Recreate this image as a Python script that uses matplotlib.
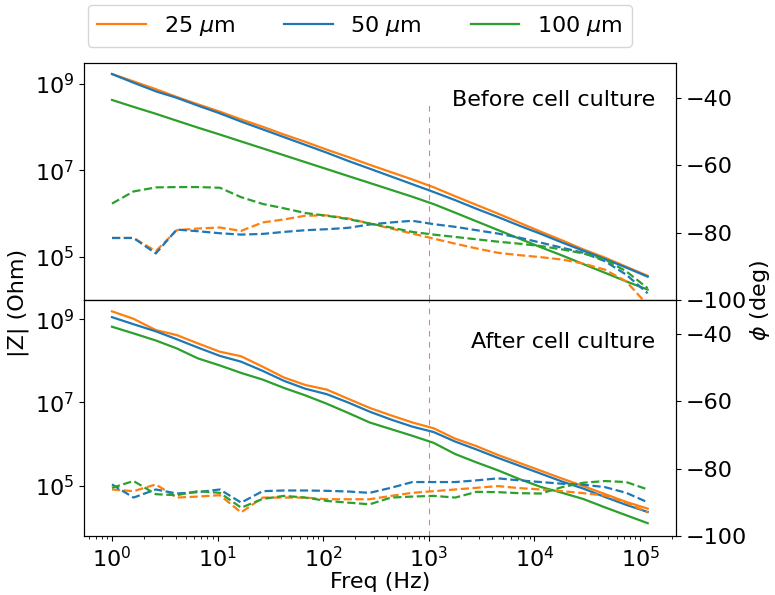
import matplotlib
matplotlib.use("Agg")
import matplotlib.pyplot as plt
import numpy as np
from matplotlib.ticker import LogLocator, NullLocator, FixedLocator, LogFormatterMathtext, NullFormatter

# ---------------- data ----------------
freq = [1, 1.6, 2.6, 4.1, 6.5, 10.5, 16.7, 26.7, 42.5, 67.8, 108, 172, 275, 438, 698,
        1110, 1780, 2830, 4510, 7200, 11500, 18300, 29100, 46500, 74000, 118000]

labels = ["25 $\\mu$m", "50 $\\mu$m", "100 $\\mu$m"]
colors = ["tab:orange", "tab:blue", "tab:green"]

# log10 |Z| before cell culture
before_logz_25 = [9.23, 9.06, 8.88, 8.70, 8.53, 8.36, 8.18, 8.01, 7.83, 7.66, 7.48, 7.31, 7.13,
                  6.96, 6.79, 6.61, 6.40, 6.20, 6.00, 5.79, 5.58, 5.38, 5.17, 4.98, 4.77, 4.56]
before_logz_50 = [9.23, 9.03, 8.83, 8.68, 8.50, 8.32, 8.13, 7.95, 7.77, 7.59, 7.41, 7.22, 7.04,
                  6.86, 6.68, 6.50, 6.31, 6.11, 5.92, 5.72, 5.53, 5.33, 5.14, 4.95, 4.75, 4.54]
before_logz_100 = [8.63, 8.47, 8.31, 8.15, 7.99, 7.83, 7.67, 7.51, 7.35, 7.19, 7.03, 6.87, 6.71,
                   6.55, 6.39, 6.22, 6.02, 5.82, 5.62, 5.42, 5.22, 5.03, 4.83, 4.63, 4.43, 4.24]

# phase (deg) before cell culture
before_ph_25 = [-81.6, -81.6, -85.5, -79.3, -78.8, -78.5, -79.5, -77.0, -76.1, -75.0, -74.9, -75.8, -77.3,
                -78.8, -80.3, -81.8, -83.3, -84.7, -86.0, -86.7, -87.3, -88.0, -89.2, -91.0, -94.5, -101.5]
before_ph_50 = [-81.6, -81.6, -86.2, -79.1, -79.6, -80.2, -80.6, -80.4, -79.8, -79.3, -79.0, -78.6, -77.6,
                -77.0, -76.5, -77.5, -78.3, -79.3, -80.3, -81.5, -83.0, -84.5, -86.0, -88.5, -92.5, -98.0]
before_ph_100 = [-71.4, -67.8, -66.6, -66.5, -66.5, -66.7, -69.5, -71.5, -72.8, -74.2, -75.0, -76.0, -77.3,
                 -78.5, -79.8, -80.6, -81.3, -82.0, -82.7, -83.3, -84.0, -85.0, -86.2, -88.0, -91.5, -96.5]

# log10 |Z| after cell culture
after_logz_25 = [9.19, 9.01, 8.74, 8.62, 8.42, 8.22, 8.11, 7.86, 7.60, 7.42, 7.31, 7.09, 6.87,
                 6.69, 6.52, 6.38, 6.13, 5.95, 5.74, 5.55, 5.36, 5.17, 4.99, 4.80, 4.61, 4.45]
after_logz_50 = [9.05, 8.88, 8.71, 8.52, 8.32, 8.12, 7.98, 7.76, 7.52, 7.33, 7.20, 7.00, 6.78,
                 6.59, 6.42, 6.29, 6.06, 5.87, 5.67, 5.48, 5.29, 5.10, 4.93, 4.73, 4.54, 4.37]
after_logz_100 = [8.82, 8.66, 8.49, 8.30, 8.06, 7.89, 7.71, 7.55, 7.35, 7.17, 6.97, 6.75, 6.52,
                  6.36, 6.20, 6.03, 5.76, 5.56, 5.37, 5.16, 4.97, 4.83, 4.68, 4.48, 4.29, 4.10]

# phase (deg) after cell culture
after_ph_25 = [-86.2, -86.7, -84.7, -88.6, -88.3, -87.9, -93.0, -88.6, -88.6, -88.6, -89.1, -89.1, -89.1,
               -88.1, -87.2, -86.7, -86.2, -85.7, -85.2, -85.8, -86.2, -86.7, -87.3, -88.0, -90.1, -93.0]
after_ph_50 = [-84.7, -88.6, -86.2, -87.4, -87.0, -86.2, -90.1, -86.7, -86.5, -86.5, -86.6, -86.8, -87.2,
               -85.7, -84.0, -84.0, -84.0, -83.5, -82.9, -83.5, -84.0, -84.5, -84.8, -85.5, -87.2, -90.0]
after_ph_100 = [-85.7, -83.7, -87.6, -87.9, -86.7, -87.2, -91.6, -89.0, -88.1, -88.6, -89.6, -90.1, -90.6,
                -88.6, -88.3, -88.1, -88.6, -86.9, -87.0, -87.3, -87.4, -85.5, -84.2, -83.7, -84.0, -86.2]

panel_titles = ["Before cell culture", "After cell culture"]

# ---------------- plotting ----------------
plt.rcParams["font.size"] = 16
plt.rcParams["font.family"] = ["DejaVu Sans"]

fig = plt.figure(figsize=(7.75, 5.95), dpi=100)
W, H = 775, 595
def rect(x0, y0, x1, y1):
    return [x0 / W, 1 - y1 / H, (x1 - x0) / W, (y1 - y0) / H]

ax_top = fig.add_axes(rect(84, 63, 676, 300))
ax_bot = fig.add_axes(rect(84, 300, 676, 536), sharex=ax_top)

panels = [
    (ax_top, [before_logz_25, before_logz_50, before_logz_100],
     [before_ph_25, before_ph_50, before_ph_100], (1.0e4, 3.06e9), (-100, -29.7)),
    (ax_bot, [after_logz_25, after_logz_50, after_logz_100],
     [after_ph_25, after_ph_50, after_ph_100], (6.2e3, 2.9e9), (-100, -30)),
]

f = np.array(freq)
handles = []
for i, (ax, logzs, phs, zlim, plim) in enumerate(panels):
    axr = ax.twinx()
    for lz, ph, c, lab in zip(logzs, phs, colors, labels):
        h, = ax.plot(f, 10 ** np.array(lz), color=c, lw=1.6, label=lab)
        axr.plot(f, ph, color=c, lw=1.6, ls="--")
        if i == 0:
            handles.append(h)
    ax.set_xscale("log")
    ax.set_yscale("log")
    ax.set_ylim(*zlim)
    axr.set_ylim(*plim)
    ax.yaxis.set_major_locator(FixedLocator([1e5, 1e7, 1e9]))
    ax.yaxis.set_major_formatter(LogFormatterMathtext())
    ax.yaxis.set_minor_locator(NullLocator())
    axr.set_yticks([-40, -60, -80, -100])
    ax.xaxis.set_major_locator(LogLocator(base=10, numticks=12))
    ax.xaxis.set_minor_locator(LogLocator(base=10, subs=np.arange(2, 10), numticks=12))
    ax.xaxis.set_minor_formatter(NullFormatter())
    ax.tick_params(labelsize=16)
    axr.tick_params(labelsize=16)
    ax.text(0.965, 0.845 if i == 0 else 0.82, panel_titles[i], transform=ax.transAxes,
            ha="right", va="center", fontsize=16)
    if i == 0:
        ax.axvline(1e3, ymin=0, ymax=0.83, color="#e8504a", ls=(0, (5, 5)), lw=0.8, alpha=0.75)
    else:
        ax.axvline(1e3, color="#e8504a", ls=(0, (5, 5)), lw=0.8, alpha=0.75)

ax_top.set_xlim(10 ** (-0.265), 10 ** 5.34)
plt.setp(ax_top.get_xticklabels(), visible=False)
ax_bot.set_xlabel("Freq (Hz)", fontsize=16, labelpad=1)

fig.text(18 / W, 1 - 303 / H, "|Z| (Ohm)", rotation=90, ha="center", va="center", fontsize=16)
fig.text(760 / W, 1 - 300 / H, "$\\phi$ (deg)", rotation=90, ha="center", va="center", fontsize=16)

fig.legend(handles=handles, labels=labels, loc="upper left", ncol=3,
           bbox_to_anchor=(88 / W, 1 - 5 / H), borderaxespad=0, fontsize=16,
           columnspacing=2.2, handlelength=2.2)

fig.savefig("out.png", dpi=100)
